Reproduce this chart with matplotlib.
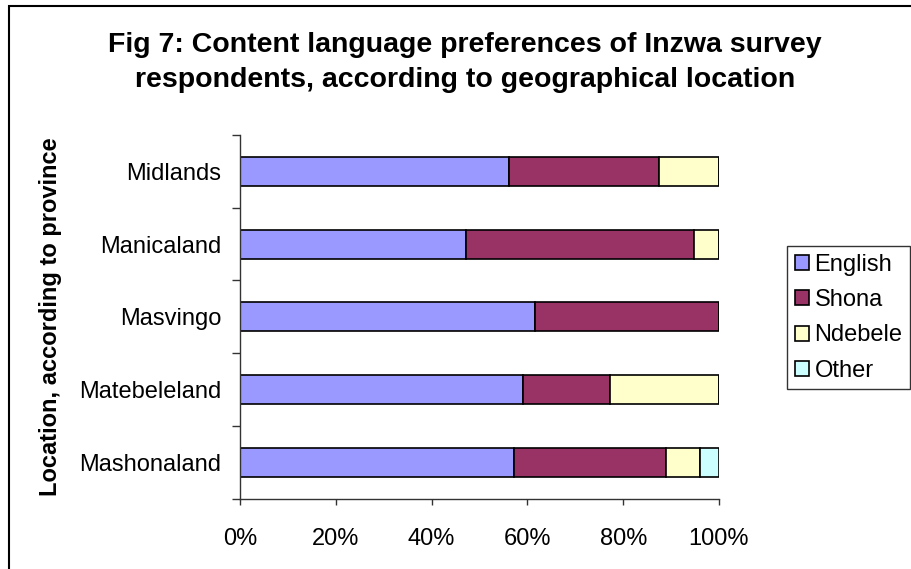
import matplotlib
matplotlib.use("Agg")
import matplotlib.pyplot as plt
from matplotlib.patches import Rectangle, Patch
import numpy as np

# ---- data ----
provinces = ["Mashonaland", "Matebeleland", "Masvingo", "Manicaland", "Midlands"]
english = [57.1, 59.0, 61.5, 47.2, 56.1]
shona = [31.9, 18.2, 38.5, 47.5, 31.4]
ndebele = [7.0, 22.8, 0.0, 5.3, 12.5]
other = [4.0, 0.0, 0.0, 0.0, 0.0]
series_names = ["English", "Shona", "Ndebele", "Other"]
series_colors = ["#9999FF", "#993366", "#FFFFCC", "#CCFFFF"]
xtick_values = [0, 20, 40, 60, 80, 100]
xtick_labels = ["0%", "20%", "40%", "60%", "80%", "100%"]
title_lines = ["Fig 7: Content language preferences of Inzwa survey",
               "respondents, according to geographical location"]
ylabel = "Location, according to province"

plt.rcParams['font.family'] = ['Liberation Sans', 'DejaVu Sans']

W, H = 911, 569
fig = plt.figure(figsize=(W / 100, H / 100), dpi=100)
fig.patch.set_facecolor("white")

# outer chart frame (extends past right/bottom edges)
fig.add_artist(Rectangle((9 / W, -0.2), 1.3, 1 - 6 / H + 0.2, transform=fig.transFigure,
                         fill=False, edgecolor="black", lw=1.5, clip_on=False))

x0, x1 = 240, 719
y0, y1 = 135, 498.5
ax = fig.add_axes([x0 / W, 1 - y1 / H, (x1 - x0) / W, (y1 - y0) / H])

series = [english, shona, ndebele, other]
pos = np.arange(len(provinces))
left = np.zeros(len(provinces))
handles = []
for vals, name, col in zip(series, series_names, series_colors):
    ax.barh(pos, vals, left=left, height=0.4, color=col, edgecolor="black",
            linewidth=1.2, label=name)
    left = left + np.array(vals)
    handles.append(Patch(facecolor=col, edgecolor="black", linewidth=1.2, label=name))

ax.set_xlim(0, 100)
ax.set_ylim(-0.5, len(provinces) - 0.5)

for s in ["top", "right"]:
    ax.spines[s].set_visible(False)
for s in ["left", "bottom"]:
    ax.spines[s].set_color("#333333")
    ax.spines[s].set_linewidth(1.0)

ax.set_xticks(xtick_values)
ax.set_xticklabels(xtick_labels, fontsize=17)
ax.tick_params(axis="x", direction="out", length=4.5, width=1.0, color="#333333", pad=17)

ax.set_yticks(np.arange(-0.5, len(provinces), 1.0))
ax.set_yticklabels([])
ax.tick_params(axis="y", which="major", direction="out", length=6, width=1.0, color="#333333")
ax.set_yticks(pos, minor=True)
ax.set_yticklabels(provinces, minor=True, fontsize=17)
ax.tick_params(axis="y", which="minor", length=0, pad=13.5)

# title
fig.text(465 / W, 1 - 52 / H, title_lines[0], ha="center", va="baseline",
         fontsize=20.5, fontweight="bold")
fig.text(465 / W, 1 - 87 / H, title_lines[1], ha="center", va="baseline",
         fontsize=20.5, fontweight="bold")

# y label
fig.text(51 / W, 1 - 316.5 / H, ylabel, rotation=90, ha="center", va="center",
         fontsize=17, fontweight="bold")

leg = fig.legend(handles=handles, loc="upper left",
                 bbox_to_anchor=(787 / W, 1 - 246 / H), bbox_transform=fig.transFigure,
                 fontsize=17, frameon=True, fancybox=False, shadow=False,
                 handlelength=0.6, handleheight=0.6, handletextpad=0.25,
                 labelspacing=0.57, borderpad=0.32, borderaxespad=0)
leg.get_frame().set_edgecolor("black")
leg.get_frame().set_linewidth(1.0)

fig.savefig("out.png", dpi=100, facecolor="white")
